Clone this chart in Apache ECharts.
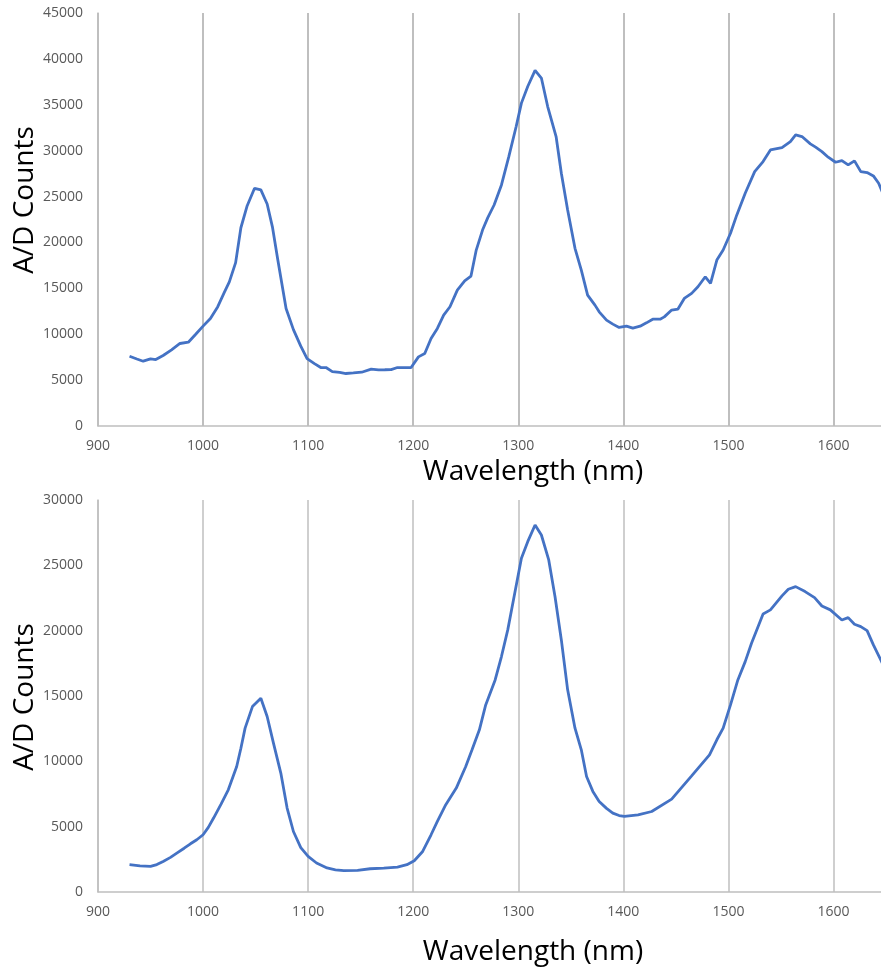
<!DOCTYPE html>
<html>
<head>
<meta charset="utf-8">
<script src="https://cdn.jsdelivr.net/npm/echarts@6/dist/echarts.min.js"></script>
<style>
  html, body { margin: 0; padding: 0; background: #ffffff; }
  #chart { width: 881px; height: 968px; }
</style>
</head>
<body>
<div id="chart"></div>
<script>
// Upper spectrum: wavelength (nm) and detector counts
const wlTop = [930, 937, 943, 950, 955, 962, 970, 978, 986, 993, 1000, 1007, 1014, 1020, 1025, 1031, 1036, 1042, 1049, 1055, 1061, 1066, 1071, 1079, 1086, 1093, 1099, 1106, 1112, 1117, 1123, 1130, 1136, 1143, 1151, 1160, 1167, 1173, 1179, 1185, 1191, 1198, 1205, 1211, 1217, 1223, 1229, 1235, 1242, 1249, 1255, 1260, 1266, 1271, 1277, 1284, 1291, 1298, 1303, 1309, 1316, 1322, 1328, 1336, 1341, 1347, 1354, 1360, 1366, 1373, 1377, 1384, 1390, 1396, 1403, 1409, 1416, 1422, 1428, 1435, 1439, 1446, 1452, 1458, 1465, 1471, 1478, 1483, 1489, 1495, 1502, 1508, 1516, 1525, 1533, 1540, 1551, 1559, 1564, 1570, 1578, 1583, 1589, 1595, 1602, 1608, 1614, 1620, 1626, 1632, 1638, 1643, 1647, 1649];
const countsTop = [7600, 7300, 7060, 7310, 7240, 7680, 8300, 8990, 9130, 10000, 10880, 11720, 13000, 14500, 15700, 17800, 21600, 24000, 25900, 25720, 24190, 21700, 18200, 12800, 10500, 8700, 7350, 6800, 6370, 6370, 5930, 5850, 5720, 5780, 5860, 6190, 6120, 6130, 6150, 6370, 6370, 6370, 7530, 7900, 9540, 10630, 12080, 12990, 14810, 15820, 16340, 19170, 21350, 22700, 24080, 26270, 29350, 32630, 35180, 36990, 38740, 37910, 34810, 31540, 27540, 23540, 19360, 16990, 14260, 13170, 12440, 11530, 11100, 10740, 10880, 10660, 10880, 11240, 11640, 11640, 11890, 12630, 12740, 13900, 14450, 15170, 16260, 15540, 18080, 19170, 21000, 23000, 25360, 27720, 28810, 30080, 30340, 30990, 31720, 31540, 30740, 30380, 29900, 29290, 28740, 28920, 28450, 28890, 27720, 27610, 27250, 26450, 25360, 24900];

// Lower spectrum
const wlBottom = [930, 940, 950, 956, 962, 969, 975, 982, 988, 994, 1000, 1005, 1010, 1017, 1024, 1032, 1036, 1040, 1047, 1055, 1061, 1067, 1074, 1080, 1086, 1093, 1100, 1108, 1118, 1126, 1134, 1147, 1159, 1172, 1185, 1194, 1201, 1209, 1217, 1223, 1231, 1241, 1250, 1256, 1263, 1269, 1278, 1284, 1290, 1296, 1303, 1309, 1316, 1322, 1329, 1335, 1341, 1347, 1354, 1360, 1365, 1371, 1377, 1384, 1390, 1396, 1401, 1414, 1427, 1446, 1465, 1482, 1489, 1495, 1502, 1509, 1516, 1522, 1533, 1540, 1551, 1557, 1564, 1573, 1582, 1589, 1597, 1608, 1614, 1620, 1626, 1632, 1638, 1645, 1649];
const countsBottom = [2090, 2000, 1960, 2100, 2340, 2650, 2980, 3350, 3690, 4000, 4380, 4950, 5660, 6700, 7820, 9600, 11000, 12540, 14190, 14830, 13430, 11390, 9100, 6420, 4630, 3400, 2720, 2220, 1840, 1700, 1630, 1650, 1780, 1820, 1910, 2090, 2390, 3100, 4380, 5400, 6680, 7950, 9600, 10880, 12410, 14320, 16230, 18020, 20060, 22600, 25540, 26810, 28090, 27320, 25410, 22600, 19290, 15470, 12540, 10880, 8840, 7700, 6930, 6400, 6040, 5850, 5780, 5910, 6160, 7110, 8890, 10500, 11650, 12540, 14320, 16230, 17630, 19040, 21280, 21590, 22660, 23170, 23370, 22990, 22530, 21890, 21590, 20820, 21000, 20490, 20310, 20000, 18910, 17760, 17100];

// Axis settings
const xTicks = { min: 900, max: 1650, interval: 100 };
const yTopTicks = { min: 0, max: 45000, interval: 5000 };
const yBottomTicks = { min: 0, max: 30000, interval: 5000 };
const xTitle = 'Wavelength (nm)';
const yTitle = 'A/D Counts';

const FONT = 'Open Sans';
const GRID_GREY = '#bfbfbf';
const LABEL_GREY = '#595959';
const LINE_BLUE = '#4472c4';

function pairs(xs, ys) {
  return xs.map((x, i) => [x, ys[i]]);
}

function makeXAxis(gridIndex, splitWidth) {
  return {
    type: 'value',
    gridIndex: gridIndex,
    min: xTicks.min,
    max: xTicks.max,
    interval: xTicks.interval,
    axisLine: { show: true, lineStyle: { color: GRID_GREY, width: 1.5 } },
    axisTick: { show: false },
    axisLabel: {
      color: LABEL_GREY,
      fontFamily: FONT,
      fontSize: 14,
      margin: 13,
      formatter: v => (v % 100 === 0 && v < xTicks.max ? String(v) : '')
    },
    splitLine: { show: true, lineStyle: { color: GRID_GREY, width: splitWidth } }
  };
}

function makeYAxis(gridIndex, ticks) {
  return {
    type: 'value',
    gridIndex: gridIndex,
    min: ticks.min,
    max: ticks.max,
    interval: ticks.interval,
    axisLine: { show: true, lineStyle: { color: GRID_GREY, width: 1.5 } },
    axisTick: { show: false },
    axisLabel: {
      color: LABEL_GREY, fontFamily: FONT, fontSize: 14, margin: 15,
      formatter: v => String(v)
    },
    splitLine: { show: false }
  };
}

const chart = echarts.init(document.getElementById('chart'), null, { renderer: 'canvas' });

const titleStyle = { fill: '#000000', fontFamily: FONT, fontSize: 28, align: 'center', verticalAlign: 'middle' };

chart.setOption({
  animation: false,
  backgroundColor: '#ffffff',
  grid: [
    { left: 98, top: 13, width: 788, height: 413, containLabel: false, outerBoundsMode: 'none' },
    { left: 98, top: 500, width: 788, height: 392, containLabel: false, outerBoundsMode: 'none' }
  ],
  xAxis: [makeXAxis(0, 2), makeXAxis(1, 1.5)],
  yAxis: [makeYAxis(0, yTopTicks), makeYAxis(1, yBottomTicks)],
  graphic: [
    { type: 'text', x: 533, y: 472, style: Object.assign({ text: xTitle }, titleStyle) },
    { type: 'text', x: 533, y: 952, style: Object.assign({ text: xTitle }, titleStyle) },
    { type: 'text', x: 25, y: 200, rotation: Math.PI / 2, style: Object.assign({ text: yTitle }, titleStyle) },
    { type: 'text', x: 25, y: 697, rotation: Math.PI / 2, style: Object.assign({ text: yTitle }, titleStyle) }
  ],
  series: [
    {
      type: 'line', xAxisIndex: 0, yAxisIndex: 0,
      data: pairs(wlTop, countsTop),
      showSymbol: false, clip: true,
      lineStyle: { color: LINE_BLUE, width: 2.8 }
    },
    {
      type: 'line', xAxisIndex: 1, yAxisIndex: 1,
      data: pairs(wlBottom, countsBottom),
      showSymbol: false, clip: true,
      lineStyle: { color: LINE_BLUE, width: 2.8 }
    }
  ]
});
</script>
</body>
</html>
